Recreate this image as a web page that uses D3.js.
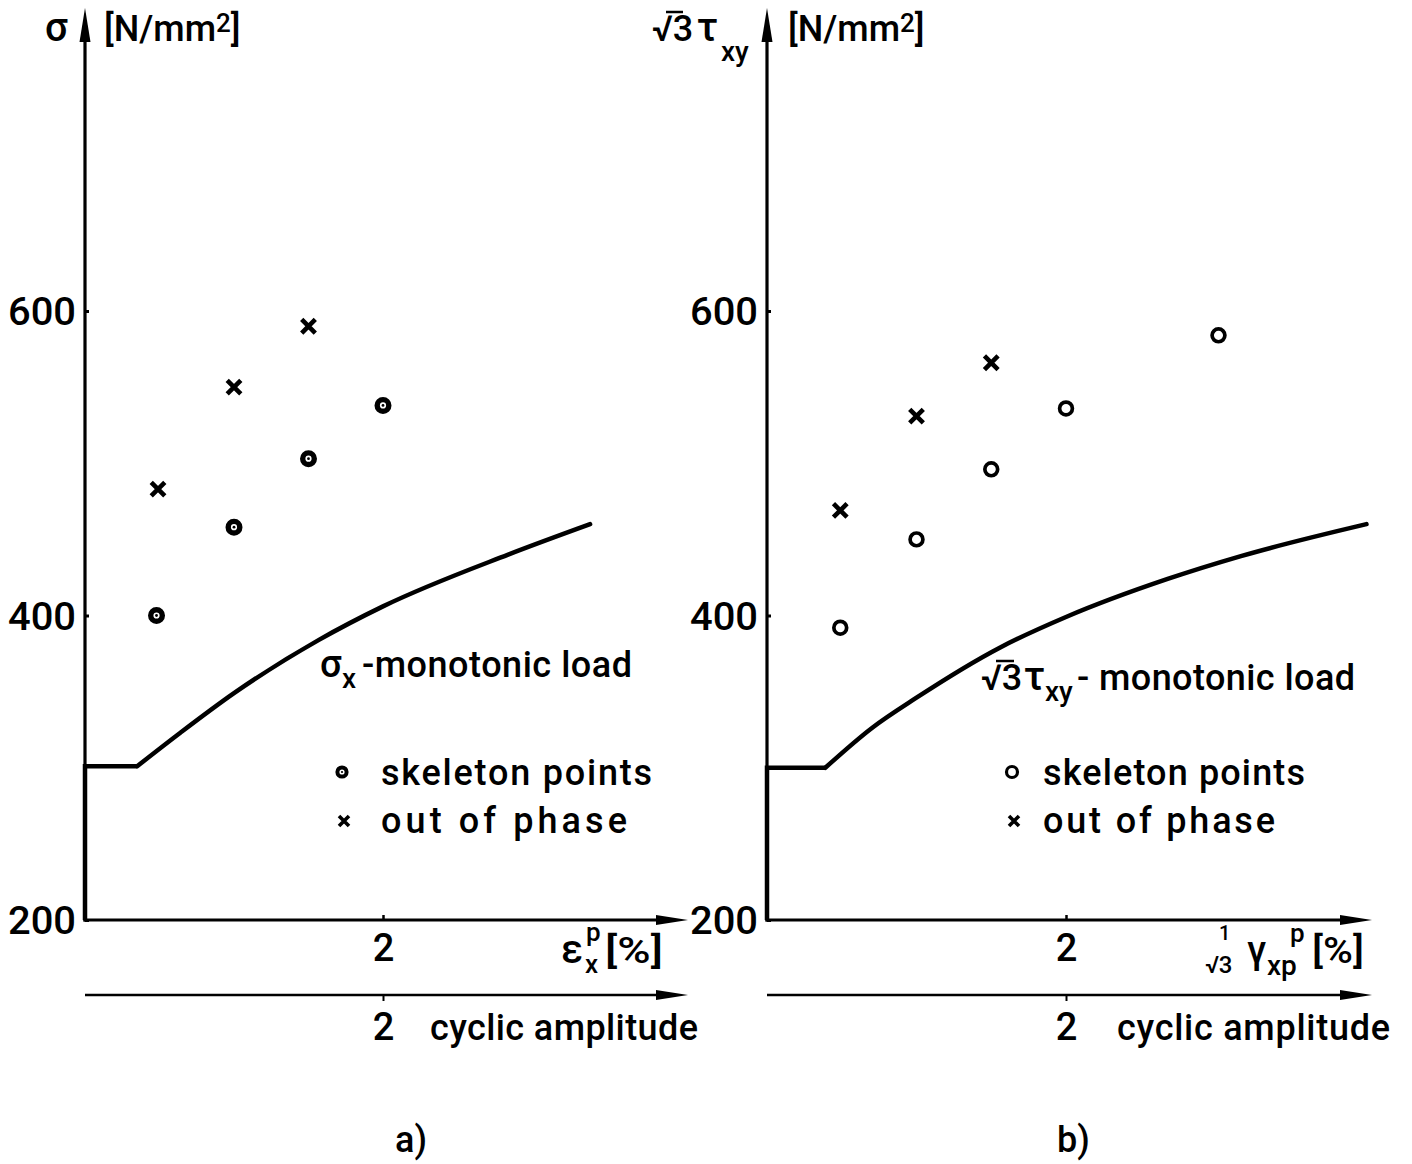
<!DOCTYPE html>
<html><head><meta charset="utf-8">
<script src="https://cdn.jsdelivr.net/npm/d3@7"></script>
<style>
html,body{margin:0;padding:0;background:#fff;}
text{font-family:Roboto,"DejaVu Sans",sans-serif;font-weight:500;fill:#000;}
</style></head>
<body>
<svg id="c" width="1412" height="1164"></svg>
<script>
// ---- data ----
const yTicks = [200, 400, 600];
const xTicks = [2];
const skeletonA_x = [0.48, 1.0, 1.5, 2.0];
const skeletonA_y = [400, 458, 503, 538];
const phaseA_x = [0.49, 1.0, 1.5];
const phaseA_y = [483, 550, 590];
const monoA_x = [0, 0, 0.35, 0.64, 1.0, 1.57, 2.0, 2.84, 3.39];
const monoA_y = [200, 301, 301, 323, 349, 384, 406, 440, 460];
const skeletonB_x = [0.49, 1.0, 1.5, 2.0, 3.02];
const skeletonB_y = [392, 450, 496, 536, 584];
const phaseB_x = [0.49, 1.0, 1.5];
const phaseB_y = [469, 531, 566];
const monoB_x = [0, 0, 0.39, 0.7, 1.0, 1.56, 2.0, 2.68, 3.17, 4.01];
const monoB_y = [200, 300, 300, 326, 346, 379, 399, 424, 439, 460];

const svg = d3.select("#c");
const y = d3.scaleLinear().domain([200, 600]).range([920, 311]);

function arrowUp(g, x, tipY){
  g.append("path").attr("d",`M${x},${tipY} L${x-5.5},${tipY+34} L${x+5.5},${tipY+34} Z`).attr("fill","#000");
}
function arrowRight(g, tipX, yy){
  g.append("path").attr("d",`M${tipX},${yy} L${tipX-32},${yy-5} L${tipX-32},${yy+5} Z`).attr("fill","#000");
}
function txt(g, x, yy, s, size, opts={}){
  const t = g.append("text").attr("x",x).attr("y",yy).attr("font-size",size).text(s);
  if(opts.anchor) t.attr("text-anchor",opts.anchor);
  if(opts.len) t.attr("textLength",opts.len).attr("lengthAdjust",opts.adj||"spacing");
  return t;
}

function panel(cfg){
  const g = svg.append("g");
  const x = d3.scaleLinear().domain([0,2]).range([cfg.x0, cfg.x2]);
  const xEnd = cfg.axisEnd;
  g.append("line").attr("x1",x(0)).attr("x2",x(0)).attr("y1",y(200)+1.5).attr("y2",30).attr("stroke","#000").attr("stroke-width",3.2);
  arrowUp(g, x(0), 8);
  g.append("line").attr("x1",x(0)-1.5).attr("x2",xEnd-20).attr("y1",y(200)).attr("y2",y(200)).attr("stroke","#000").attr("stroke-width",3);
  arrowRight(g, xEnd, y(200));
  const ya = d3.axisLeft(y).tickValues(yTicks).tickSizeInner(-4).tickSizeOuter(0).tickPadding(9).tickFormat(d3.format("d"));
  const yg = g.append("g").attr("transform",`translate(${x(0)},0)`).call(ya);
  yg.select(".domain").remove();
  yg.selectAll(".tick line").attr("stroke","#000").attr("stroke-width",3);
  yg.selectAll(".tick text").attr("font-size",38).attr("dy","0.36em").attr("font-family",null).attr("textLength",68).attr("lengthAdjust","spacingAndGlyphs");
  const xa = d3.axisBottom(x).tickValues(xTicks).tickSizeInner(-5).tickSizeOuter(0).tickPadding(14).tickFormat(d3.format("d"));
  const xg = g.append("g").attr("transform",`translate(0,${y(200)})`).call(xa);
  xg.select(".domain").remove();
  xg.selectAll(".tick line").attr("stroke","#000").attr("stroke-width",2.5);
  xg.selectAll(".tick text").attr("font-size",38).attr("font-family",null).attr("dy","0.71em");
  const y2 = 995;
  g.append("line").attr("x1",x(0)).attr("x2",xEnd-20).attr("y1",y2).attr("y2",y2).attr("stroke","#000").attr("stroke-width",2.5);
  arrowRight(g, xEnd, y2);
  const xa2 = d3.axisBottom(x).tickValues(xTicks).tickSizeInner(6).tickSizeOuter(0).tickPadding(12).tickFormat(d3.format("d"));
  const xg2 = g.append("g").attr("transform",`translate(0,${y2})`).call(xa2);
  xg2.select(".domain").remove();
  xg2.selectAll(".tick line").attr("stroke","#000").attr("stroke-width",2);
  xg2.selectAll(".tick text").attr("font-size",38).attr("font-family",null).attr("dy","0.71em");

  const pts = cfg.mx.map((v,i)=>[v,cfg.my[i]]);
  const lin = d3.line().x(d=>x(d[0])).y(d=>y(d[1]));
  g.append("path").attr("d",lin(pts.slice(0,3))).attr("fill","none").attr("stroke","#000").attr("stroke-width",4.5).attr("stroke-linejoin","miter");
  const cur = d3.line().x(d=>x(d[0])).y(d=>y(d[1])).curve(d3.curveMonotoneX);
  g.append("path").attr("d",cur(pts.slice(2))).attr("fill","none").attr("stroke","#000").attr("stroke-width",4.5).attr("stroke-linecap","round");

  const sk = cfg.sx.map((v,i)=>[v,cfg.sy[i]]);
  g.selectAll(null).data(sk).enter().append("circle")
    .attr("cx",d=>x(d[0])).attr("cy",d=>y(d[1])).attr("r",cfg.dot?5.8:6.4)
    .attr("fill","#fff").attr("stroke","#000").attr("stroke-width",cfg.dot?5.4:3.7);
  if(cfg.dot){
    g.selectAll(null).data(sk).enter().append("circle")
      .attr("cx",d=>x(d[0])).attr("cy",d=>y(d[1])).attr("r",1.4).attr("fill","#000");
  }
  const ph = cfg.px.map((v,i)=>[v,cfg.py[i]]);
  g.selectAll(null).data(ph).enter().append("path")
    .attr("d",()=>{const s=6.8;return `M${-s},${-s}L${s},${s}M${-s},${s}L${s},${-s}`;})
    .attr("transform",d=>`translate(${x(d[0])},${y(d[1])})`)
    .attr("stroke","#000").attr("stroke-width",4.6).attr("fill","none");

  const L = cfg.leg;
  g.append("circle").attr("cx",L.cx).attr("cy",772).attr("r",cfg.dot?4.6:5.5).attr("fill","#fff").attr("stroke","#000").attr("stroke-width",cfg.dot?4:3.2);
  if(cfg.dot) g.append("circle").attr("cx",L.cx).attr("cy",772).attr("r",1.1).attr("fill","#000");
  g.append("path").attr("d","M-5,-5L5,5M-5,5L5,-5").attr("transform",`translate(${L.cx+2},821)`).attr("stroke","#000").attr("stroke-width",3.6);
  return {g,x};
}

// ---------- panel a ----------
const A = panel({x0:85, x2:383, axisEnd:688, mx:monoA_x, my:monoA_y, sx:skeletonA_x, sy:skeletonA_y, px:phaseA_x, py:phaseA_y, dot:true, leg:{cx:342}});
{
  const g = A.g;
  txt(g, 45, 41, "σ", 40);
  const t = txt(g, 104, 41, "[N/mm", 36);
  t.append("tspan").attr("font-size",26).attr("dy",-9).text("2");
  t.append("tspan").attr("dy",9).text("]");
  txt(g, 320, 677, "σ", 38);
  txt(g, 342, 688, "x", 28);
  txt(g, 362, 677, "-monotonic load", 36, {len:270});
  txt(g, 381, 785, "skeleton points", 36, {len:271});
  txt(g, 381, 833, "out of phase", 36, {len:246});
  // x label
  txt(g, 561, 963, "ε", 40);
  txt(g, 585, 973, "x", 26);
  txt(g, 586, 941, "p", 26);
  txt(g, 605, 963, "[%]", 36, {len:58, adj:"spacingAndGlyphs"});
  txt(g, 430, 1040, "cyclic amplitude", 36, {len:268});
  txt(g, 395, 1152, "a)", 36);
}

// ---------- panel b ----------
const B = panel({x0:767, x2:1066, axisEnd:1372, mx:monoB_x, my:monoB_y, sx:skeletonB_x, sy:skeletonB_y, px:phaseB_x, py:phaseB_y, dot:false, leg:{cx:1012}});
{
  const g = B.g;
  txt(g, 652, 41, "√3", 36);
  g.append("line").attr("x1",666).attr("x2",683).attr("y1",12).attr("y2",12).attr("stroke","#000").attr("stroke-width",2.5);
  txt(g, 697, 41, "τ", 40);
  txt(g, 721, 61, "xy", 28);
  const t = txt(g, 788, 41, "[N/mm", 36);
  t.append("tspan").attr("font-size",26).attr("dy",-9).text("2");
  t.append("tspan").attr("dy",9).text("]");
  txt(g, 981, 690, "√3", 36);
  g.append("line").attr("x1",996).attr("x2",1014).attr("y1",661).attr("y2",661).attr("stroke","#000").attr("stroke-width",2.5);
  txt(g, 1024, 690, "τ", 40);
  txt(g, 1045, 701, "xy", 28);
  txt(g, 1077, 690, "- monotonic load", 36, {len:278});
  txt(g, 1043, 785, "skeleton points", 36, {len:262});
  txt(g, 1043, 833, "out of phase", 36, {len:232});
  // x label
  txt(g, 1219, 940, "1", 20);
  txt(g, 1205, 973, "√3", 24);
  txt(g, 1247, 963, "γ", 38);
  txt(g, 1267, 975, "xp", 28);
  txt(g, 1290, 942, "p", 26);
  txt(g, 1312, 963, "[%]", 36, {len:52, adj:"spacingAndGlyphs"});
  txt(g, 1117, 1040, "cyclic amplitude", 36, {len:273});
  txt(g, 1057, 1152, "b)", 36);
}
</script>
</body></html>
